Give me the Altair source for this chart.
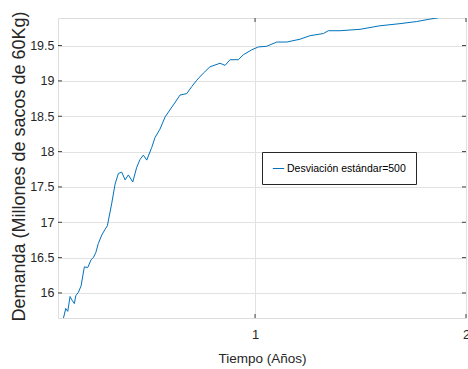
import altair as alt
import pandas as pd

# Data
tiempo = [0.0915, 0.1028, 0.1123, 0.1232, 0.1341, 0.1436, 0.1502, 0.1626, 0.1754, 0.1910,
          0.2071, 0.2227, 0.2336, 0.2450, 0.2573, 0.2735, 0.2891, 0.3000, 0.3209, 0.3365,
          0.3521, 0.3682, 0.3839, 0.3995, 0.4204, 0.4393, 0.4550, 0.4706, 0.4867, 0.5104,
          0.5261, 0.5498, 0.5735, 0.6128, 0.6445, 0.6763, 0.7000, 0.7237, 0.7550, 0.7867,
          0.8341, 0.8578, 0.8815, 0.9209, 0.9445, 0.9844, 1.0156, 1.0555, 1.1028, 1.1502,
          1.2133, 1.2607, 1.3237, 1.3474, 1.4028, 1.4976, 1.5924, 1.6872, 1.7664, 1.8213,
          1.9000, 2.0000]
demanda = [15.64, 15.78, 15.74, 15.95, 15.89, 15.85, 15.96, 16.01, 16.10, 16.37,
           16.36, 16.47, 16.50, 16.57, 16.70, 16.82, 16.90, 16.95, 17.27, 17.54,
           17.69, 17.71, 17.60, 17.67, 17.57, 17.78, 17.89, 17.95, 17.88, 18.06,
           18.20, 18.32, 18.49, 18.66, 18.80, 18.82, 18.92, 19.01, 19.11, 19.20,
           19.25, 19.22, 19.30, 19.30, 19.37, 19.44, 19.48, 19.49, 19.55, 19.55,
           19.59, 19.64, 19.67, 19.71, 19.71, 19.73, 19.78, 19.81, 19.84, 19.87,
           19.91, 19.95]
serie = "Desviación estándar=500"
x_ticks = [1, 2]
y_ticks = [16, 16.5, 17, 17.5, 18, 18.5, 19, 19.5]

X_DOM = [0.066, 2.0]
Y_DOM = [15.646, 19.89]
W, H = 408, 300
FONT = "Liberation Sans, Arial"
TXT = "#262626"

df = pd.DataFrame({"t": tiempo, "d": demanda, "s": [serie] * len(tiempo)})
dfx = pd.DataFrame({"t": x_ticks})
dfy = pd.DataFrame({"d": y_ticks})

xs = alt.Scale(domain=X_DOM, nice=False, zero=False)
ys = alt.Scale(domain=Y_DOM, nice=False, zero=False)

xaxis = alt.Axis(
    values=x_ticks, title="Tiempo (Años)", grid=True, gridColor="#e2e2e2",
    domain=False, ticks=False, labelPadding=10, labelFontSize=13, labelFont=FONT,
    labelColor=TXT, labelFlush=False, titleFont=FONT, titleFontSize=13.5,
    titleFontWeight="normal", titleColor=TXT, titlePadding=10)
yaxis = alt.Axis(
    values=y_ticks, format="~g", title="Demanda (Millones de sacos de 60Kg)",
    grid=True, gridColor="#e2e2e2", domain=False, ticks=False, labelPadding=4,
    labelFontSize=12.5, labelFont=FONT, labelColor=TXT, titleFont=FONT,
    titleFontSize=18, titleFontWeight="normal", titleColor=TXT,
    titleX=-39, titleY=148, titleBaseline="middle", titleAnchor="middle", titleAlign="center")

line = alt.Chart(df).mark_line(strokeWidth=1, clip=True).encode(
    x=alt.X("t:Q", scale=xs, axis=xaxis),
    y=alt.Y("d:Q", scale=ys, axis=yaxis),
    color=alt.Color("s:N", scale=alt.Scale(domain=[serie], range=["#0072BD"]),
                    legend=alt.Legend(title=None, orient="none", legendX=204, legendY=134,
                                      symbolType="stroke", symbolSize=130, symbolStrokeWidth=1,
                                      labelFont=FONT, labelFontSize=10.5, labelColor="#000000",
                                      padding=10, strokeColor="#262626", fillColor="#ffffff",
                                      labelOffset=2)),
)

tick_col = "#404040"
yl = alt.Chart(dfy).mark_rule(color=tick_col, strokeWidth=1).encode(
    y=alt.Y("d:Q", scale=ys, axis=yaxis), x=alt.value(0), x2=alt.value(4))
yr = alt.Chart(dfy).mark_rule(color=tick_col, strokeWidth=1).encode(
    y=alt.Y("d:Q", scale=ys, axis=yaxis), x=alt.value(W - 4), x2=alt.value(W))
xb = alt.Chart(dfx).mark_rule(color=tick_col, strokeWidth=1).encode(
    x=alt.X("t:Q", scale=xs, axis=xaxis), y=alt.value(H - 4), y2=alt.value(H))
xt = alt.Chart(dfx).mark_rule(color=tick_col, strokeWidth=1).encode(
    x=alt.X("t:Q", scale=xs, axis=xaxis), y=alt.value(0), y2=alt.value(4))

chart = alt.layer(line, yl, yr, xb, xt).properties(
    width=W, height=H,
    autosize=alt.AutoSizeParams(type="none"),
    padding={"left": 58, "top": 18, "right": 2, "bottom": 51},
).configure_view(stroke="#4a4a4a", strokeWidth=1).configure(background="#ffffff")

chart.save("out.html", embed_options={"renderer": "svg", "actions": False})
